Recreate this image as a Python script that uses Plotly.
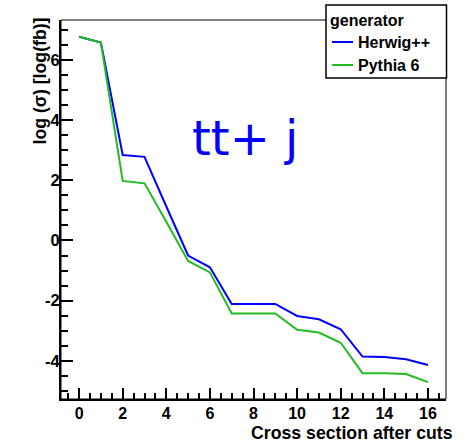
import plotly.graph_objects as go

cuts = list(range(17))
herwig = [6.77, 6.58, 2.84, 2.78, 1.13, -0.50, -0.89, -2.11, -2.11, -2.11,
          -2.51, -2.62, -2.95, -3.86, -3.87, -3.95, -4.14]
pythia = [6.77, 6.58, 1.98, 1.90, 0.62, -0.68, -1.06, -2.43, -2.43, -2.43,
          -2.97, -3.06, -3.40, -4.41, -4.41, -4.44, -4.71]
series_names = ["Herwig++", "Pythia 6"]
series_colors = ["#0000ff", "#22bb22"]
legend_title = "generator"
x_ticks = [0, 2, 4, 6, 8, 10, 12, 14, 16]
x_ticktext = ["0", "2", "4", "6", "8", "10", "12", "14", "16"]
y_ticks = [-4, -2, 0, 2, 4, 6]
y_ticktext = ["-4", "-2", "0", "2", "4", "6"]

FAM = "Liberation Sans, Arial, sans-serif"
BOLD = dict(family=FAM, size=16, color="black", weight="bold")
TITLE_FONT = dict(family=FAM, size=17.7, color="black", weight="bold")

# plot area in pixels (for positioning the decorations)
PL, PR, PT, PB = 61, 446, 20, 399
def px(x):
    return (x - PL) / (PR - PL)
def py(y):
    return (PB - y) / (PB - PT)

fig = go.Figure()
for name, vals, col in zip(series_names, [herwig, pythia], series_colors):
    fig.add_trace(go.Scatter(x=cuts, y=vals, mode="lines", name=name,
                             line=dict(color=col, width=2)))

shapes = [dict(type="rect", xref="paper", yref="paper", x0=0, x1=1, y0=0, y1=1,
               line=dict(color="black", width=1), layer="above"),
          dict(type="rect", xref="paper", yref="paper", x0=px(326), x1=px(446.5),
               y0=py(78), y1=py(5), fillcolor="white",
               line=dict(color="black", width=1.5), layer="above")]
annotations = [
    dict(text="log (σ) [log(fb)]", xref="paper", yref="paper", x=px(39), y=py(16),
         xanchor="center", yanchor="top", textangle=-90, showarrow=False, font=TITLE_FONT),
    dict(text="Cross section after cuts", xref="paper", yref="paper", x=px(455), y=py(433),
         xanchor="right", yanchor="middle", showarrow=False, font=TITLE_FONT),
    dict(text="tt+ j", xref="paper", yref="paper", x=px(245), y=py(138),
         xanchor="center", yanchor="middle", showarrow=False,
         font=dict(family="DejaVu Sans", size=48, color="#0000ff")),
    dict(text=legend_title, xref="paper", yref="paper", x=px(327.5), y=py(20),
         xanchor="left", yanchor="middle", showarrow=False, font=BOLD),
]
for i, (name, col) in enumerate(zip(series_names, series_colors)):
    yy = 42 + 23 * i
    shapes.append(dict(type="line", xref="paper", yref="paper", x0=px(332), x1=px(353),
                       y0=py(yy), y1=py(yy), line=dict(color=col, width=2), layer="above"))
    annotations.append(dict(text=name, xref="paper", yref="paper", x=px(355.5), y=py(yy),
                            xanchor="left", yanchor="middle", showarrow=False, font=BOLD))

fig.update_layout(
    width=467, height=442,
    margin=dict(l=PL, r=467 - PR, t=PT, b=442 - PB, autoexpand=False),
    paper_bgcolor="white", plot_bgcolor="white",
    showlegend=False,
    xaxis=dict(
        range=[-0.83, 16.83], tickvals=x_ticks, ticktext=x_ticktext,
        ticks="inside", ticklen=11, tickwidth=1.5, tickcolor="black",
        minor=dict(dtick=0.5, tick0=0, ticks="inside", ticklen=6, tickwidth=1.5, tickcolor="black", showgrid=False),
        showgrid=False, zeroline=False, showline=True, linecolor="black", linewidth=2,
        tickfont=BOLD, automargin=False, ticklabelstandoff=-1,
    ),
    yaxis=dict(
        range=[-5.27, 7.33], tickvals=y_ticks, ticktext=y_ticktext,
        ticks="inside", ticklen=12, tickwidth=1.5, tickcolor="black",
        minor=dict(dtick=0.5, tick0=0, ticks="inside", ticklen=7, tickwidth=1.5, tickcolor="black", showgrid=False),
        showgrid=False, zeroline=False, showline=True, linecolor="black", linewidth=2,
        tickfont=dict(family=FAM, size=16.5, color="black", weight="bold"),
        ticklabelstandoff=-4, automargin=False,
    ),
    shapes=shapes,
    annotations=annotations,
)

fig.write_html("out.html", config={"displayModeBar": False},
               post_script="document.body.style.margin='0';document.body.style.padding='0';")
